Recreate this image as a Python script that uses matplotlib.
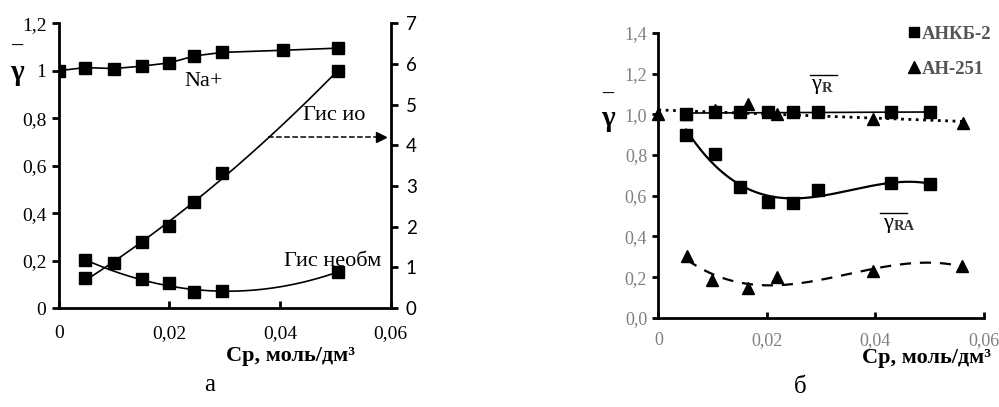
import numpy as np
import matplotlib.pyplot as plt
from matplotlib.lines import Line2D

SERIF = 'Liberation Serif'
GREY = '#7f7f7f'
DGREY = '#555555'

# ---- данные, рисунок а ----
c_na = [0, 0.0047, 0.0099, 0.015, 0.02, 0.0245, 0.0295, 0.0405, 0.0505]
g_na = [1.0, 1.013, 1.009, 1.019, 1.033, 1.062, 1.077, 1.086, 1.095]

c_io = [0.0047, 0.0099, 0.015, 0.02, 0.0245, 0.0295, 0.0505]
g_io = [0.73, 1.11, 1.63, 2.01, 2.60, 3.32, 5.82]          # правая ось

c_neo = [0.0047, 0.015, 0.02, 0.0245, 0.0295, 0.0505]
g_neo = [0.202, 0.121, 0.104, 0.066, 0.072, 0.153]

ya_ticks = [0, 0.2, 0.4, 0.6, 0.8, 1.0, 1.2]
ya_labels = ['0', '0,2', '0,4', '0,6', '0,8', '1', '1,2']
yr_ticks = [0, 1, 2, 3, 4, 5, 6, 7]
x_ticks = [0, 0.02, 0.04, 0.06]
x_labels = ['0', '0,02', '0,04', '0,06']

# ---- данные, рисунок б ----
c_sq = [0.0051, 0.0105, 0.0151, 0.0202, 0.0249, 0.0295, 0.0428, 0.050]
gR_sq = [1.0, 1.01, 1.01, 1.01, 1.01, 1.01, 1.01, 1.01]
gRA_sq = [0.90, 0.806, 0.642, 0.571, 0.563, 0.629, 0.665, 0.657]

c_trR = [0, 0.0051, 0.0105, 0.0166, 0.0218, 0.0396, 0.0561]
gR_tr = [1.0, 1.0, 1.02, 1.05, 1.0, 0.976, 0.956]
c_trRA = [0.0053, 0.0099, 0.0165, 0.0219, 0.0395, 0.056]
gRA_tr = [0.305, 0.187, 0.146, 0.2, 0.228, 0.255]

yb_ticks = [0, 0.2, 0.4, 0.6, 0.8, 1.0, 1.2, 1.4]
yb_labels = ['0,0', '0,2', '0,4', '0,6', '0,8', '1,0', '1,2', '1,4']


def trend(x, y, deg):
    p = np.polyfit(x, y, deg)
    xs = np.linspace(x[0], x[-1], 200)
    return xs, np.polyval(p, xs)


W, H = 999, 407
fig = plt.figure(figsize=(9.99, 4.07), dpi=100)


def ftext(px, py, s, **kw):
    # координаты в пикселях от левого верхнего угла
    return fig.text(px / W, 1 - py / H, s, **kw)


def gamma_bar(px, py, sub, x0, x1, ybar):
    ftext(px, py, 'γ', fontfamily=SERIF, fontsize=16, ha='center', va='center')
    ftext(px + 6, py + 4, sub, fontfamily=SERIF, fontsize=10.5, fontweight='bold',
          ha='left', va='center', color='#333333')
    fig.add_artist(Line2D([x0 / W, x1 / W], [1 - ybar / H, 1 - ybar / H],
                          color='black', lw=1.0))


# ================= а =================
ax = fig.add_axes([0.059, 0.243, 0.332, 0.700])
ax.set_xlim(0, 0.06)
ax.set_ylim(0, 1.2)
for s in ['top', 'right']:
    ax.spines[s].set_visible(False)
for s in ['left', 'bottom']:
    ax.spines[s].set_linewidth(2)
ax.set_yticks(ya_ticks)
ax.set_yticklabels(ya_labels, fontfamily=SERIF, fontsize=14)
ax.set_xticks(x_ticks)
ax.set_xticklabels(x_labels, fontfamily=SERIF, fontsize=14)
ax.tick_params(axis='y', direction='out', length=5, width=2, pad=4)
ax.tick_params(axis='x', direction='in', length=5, width=2, pad=12)

ax.plot(c_na, g_na, '-', color='black', lw=1.2, marker='s', ms=8.5, zorder=3)
xs, ys = trend(c_neo, g_neo, 2)
ax.plot(xs, ys, '-', color='black', lw=1.2)
ax.plot(c_neo, g_neo, 's', color='black', ms=8.5, zorder=3)

ax2 = ax.twinx()
ax2.set_ylim(0, 7)
ax2.set_yticks(yr_ticks)
ax2.set_yticklabels([str(v) for v in yr_ticks], fontfamily='Lato', fontsize=13.5)
for s in ['top', 'left', 'bottom']:
    ax2.spines[s].set_visible(False)
ax2.spines['right'].set_linewidth(2)
ax2.tick_params(axis='y', direction='out', length=5, width=2, pad=6)
xs, ys = trend(c_io, g_io, 2)
ax2.plot(xs, ys, '-', color='black', lw=1.2)
ax2.plot(c_io, g_io, 's', color='black', ms=8.5, zorder=3)

ax.text(0.0262, 0.955, 'Na+', fontfamily=SERIF, fontsize=16, ha='center', va='center')
ax.text(0.0498, 0.81, 'Гис ио', fontfamily=SERIF, fontsize=16, ha='center', va='center',
        clip_on=False)
ax.plot([0.0378, 0.0580], [0.72, 0.72], '--', color='black', lw=1.1, clip_on=False)
ax.plot([0.0583], [0.72], '>', color='black', ms=7, clip_on=False)
ax.text(0.0495, 0.195, 'Гис необм', fontfamily=SERIF, fontsize=16, ha='center', va='center',
        clip_on=False)

ftext(17, 46, '–', fontfamily=SERIF, fontsize=16, fontweight='bold', ha='center', va='center')
ftext(17, 72, 'γ', fontfamily=SERIF, fontsize=21, fontweight='bold', ha='center', va='center')
ftext(291, 356, 'Ср, моль/дм³', fontfamily=SERIF, fontsize=16, fontweight='bold',
      ha='center', va='center')
ftext(210, 385, 'а', fontfamily=SERIF, fontsize=18, ha='center', va='center')

# ================= б =================
bx = fig.add_axes([0.659, 0.219, 0.326, 0.700])
bx.set_xlim(0, 0.06)
bx.set_ylim(0, 1.4)
for s in ['top', 'right']:
    bx.spines[s].set_visible(False)
for s in ['left', 'bottom']:
    bx.spines[s].set_linewidth(2)
bx.set_yticks(yb_ticks)
bx.set_yticklabels(yb_labels, fontfamily=SERIF, fontsize=13, color=GREY)
bx.set_xticks(x_ticks)
bx.set_xticklabels(x_labels, fontfamily=SERIF, fontsize=13, color=GREY)
bx.tick_params(axis='y', direction='out', length=4, width=2, pad=4)
bx.tick_params(axis='x', direction='in', length=4, width=2, pad=10)

xs, ys = trend(c_sq, gR_sq, 1)
bx.plot(xs, ys, '-', color='black', lw=1.2)
xs, ys = trend(c_trR, gR_tr, 1)
bx.plot(xs, ys, ':', color='black', lw=2)
xs, ys = trend(c_sq, gRA_sq, 3)
bx.plot(xs, ys, '-', color='black', lw=1.6)
xs, ys = trend(c_trRA, gRA_tr, 3)
bx.plot(xs, ys, '--', color='black', lw=1.6, dashes=(5, 4))

bx.plot(c_trR, gR_tr, '^', color='black', ms=9, zorder=3, clip_on=False)
bx.plot(c_trRA, gRA_tr, '^', color='black', ms=9, zorder=3)
bx.plot(c_sq, gR_sq, 's', color='black', ms=8, zorder=4)
bx.plot(c_sq, gRA_sq, 's', color='black', ms=8, zorder=4)

gamma_bar(816, 85, 'R', 810, 837, 75)
gamma_bar(888, 223, 'RA', 880, 907, 213)

ftext(608, 94, '–', fontfamily=SERIF, fontsize=16, fontweight='bold', ha='center', va='center')
ftext(608, 118, 'γ', fontfamily=SERIF, fontsize=21, fontweight='bold', ha='center', va='center')
ftext(991, 358, 'Ср, моль/дм³', fontfamily=SERIF, fontsize=16, fontweight='bold',
      ha='right', va='center')
ftext(800, 387, 'б', fontfamily=SERIF, fontsize=18, ha='center', va='center')

handles = [Line2D([], [], ls='none', marker='s', color='black', ms=7),
           Line2D([], [], ls='none', marker='^', color='black', ms=8)]
leg = fig.legend(handles, ['АНКБ-2', 'АН-251'], loc='upper left',
                 bbox_to_anchor=(905 / W, 1 - 22 / H), frameon=False,
                 handlelength=0.55, handletextpad=0.15, labelspacing=0.95,
                 borderaxespad=0, borderpad=0.2,
                 prop={'family': SERIF, 'weight': 'bold', 'size': 13.5})
for t in leg.get_texts():
    t.set_color(DGREY)

fig.savefig('out.png', dpi=100)
